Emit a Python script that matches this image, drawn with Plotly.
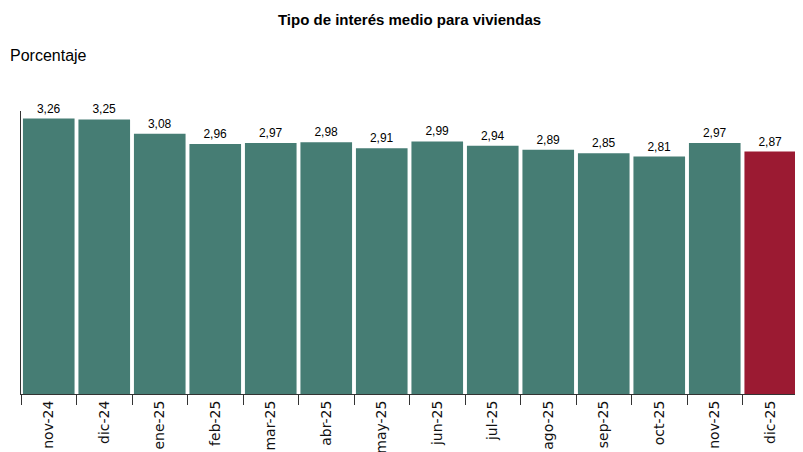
import plotly.graph_objects as go

categories = ["nov-24","dic-24","ene-25","feb-25","mar-25","abr-25","may-25","jun-25","jul-25","ago-25","sep-25","oct-25","nov-25","dic-25"]
values = [3.26,3.25,3.08,2.96,2.97,2.98,2.91,2.99,2.94,2.89,2.85,2.81,2.97,2.87]
colors = ["#467d74"]*13 + ["#9b1a32"]
labels = [f"{v:.2f}".replace(".", ",") for v in values]

fig = go.Figure(go.Bar(x=categories, y=values, marker_color=colors, marker_line_width=0,
                       text=labels, textposition="outside", cliponaxis=False,
                       textfont=dict(family="Arial", size=12, color="#000")))
fig.update_layout(
    width=803, height=452, margin=dict(l=13, r=13, t=103, b=66, autoexpand=False),
    plot_bgcolor="white", paper_bgcolor="white", bargap=0.07, showlegend=False,
    title=dict(text="<b>Tipo de interés medio para viviendas</b>", x=0.5, xanchor="center",
               y=0.985, yanchor="top", font=dict(family="Arial", size=15, color="#000")),
    annotations=[dict(text="Porcentaje", xref="paper", yref="paper", x=-0.017, y=1.195,
                      xanchor="left", yanchor="middle", showarrow=False,
                      font=dict(family="Arial", size=16, color="#000"))],
)
fig.update_xaxes(type="category", showline=True, linecolor="#333", linewidth=1, automargin=False,
                 ticks="outside", tickson="boundaries", ticklen=10, tickcolor="#333",
                 tickangle=-90, tickfont=dict(family="DejaVu Sans", size=14, color="#111"))
fig.update_yaxes(range=[0, 3.35], showticklabels=False, showgrid=False, zeroline=False,
                 automargin=False, showline=True, linecolor="#333", linewidth=1)
fig.write_html("out.html")
